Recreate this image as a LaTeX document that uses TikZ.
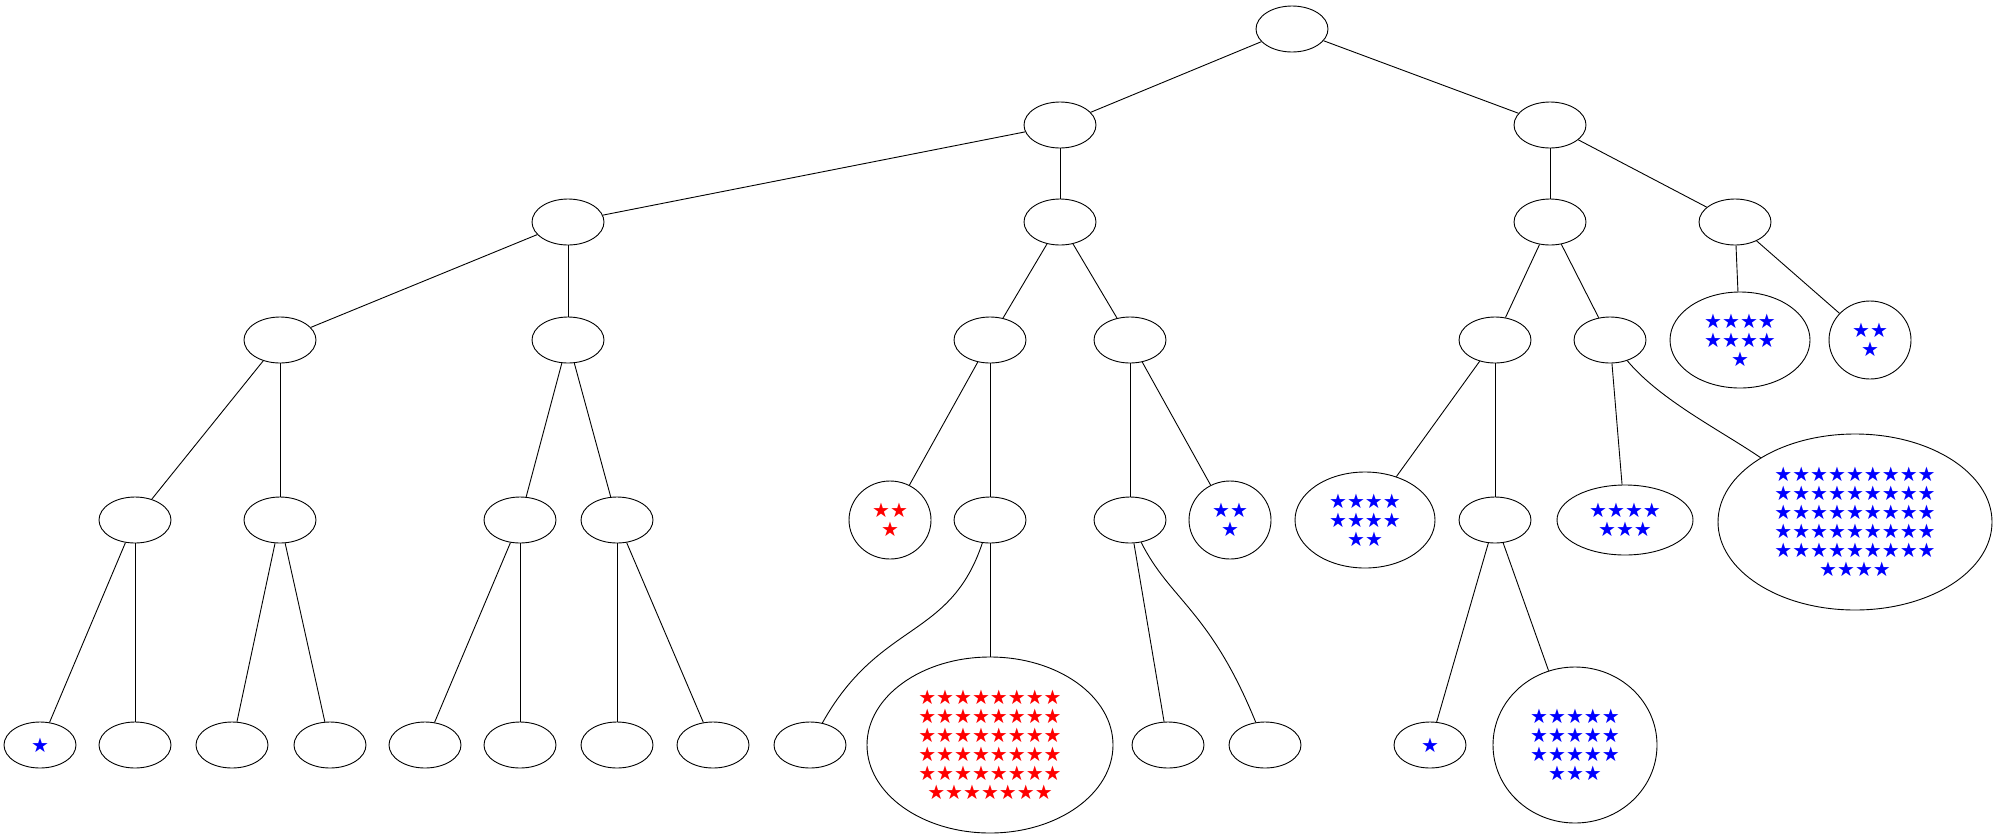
\documentclass[tikz,border=0pt]{standalone}
\usepackage{fontspec}
\newfontfamily\starfont{DejaVu Sans}
\usetikzlibrary{shapes.geometric}
\begin{document}
\begin{tikzpicture}[x=1pt,y=-1pt,
  leaf/.style={draw,ellipse,minimum width=72pt,minimum height=46pt,inner sep=0pt},
  blob/.style={draw=black,ellipse,inner sep=0pt,align=center,font=\starfont\fontsize{20}{19}\selectfont},
  every path/.style={line width=0.9pt}]
\useasboundingbox (0,0) rectangle (1996,836);

    % upper levels
    \node[leaf] (r) at (1292,29) {};
    \node[leaf] (a) at (1060,125) {};
    \node[leaf] (b) at (1550,125) {};
    \node[leaf] (aa) at (568,222) {};
    \node[leaf] (ab) at (1060,222) {};
    \node[leaf] (ba) at (1550,222) {};
    \node[leaf] (bb) at (1735,222) {};

    \node[leaf] (aaa) at (280,340) {};
    \node[leaf] (aab) at (568,340) {};
    \node[leaf] (aba) at (990,340) {};
    \node[leaf] (abb) at (1130,340) {};
    \node[leaf] (baa) at (1495,340) {};
    \node[leaf] (bab) at (1610,340) {};
    \node[blob,text=blue,minimum width=140pt,minimum height=96pt] (bba) at (1740,340) {★★★★\\★★★★\\★};
    \node[blob,text=blue,minimum width=82pt,minimum height=78pt] (bbb) at (1870,340) {★★\\★};

    % fourth level
    \node[leaf] (aaaa) at (135,520) {};
    \node[leaf] (aaab) at (280,520) {};
    \node[leaf] (aaba) at (520,520) {};
    \node[leaf] (aabb) at (617,520) {};
    \node[blob,text=red,minimum width=82pt,minimum height=78pt] (abaa) at (890,520) {★★\\★};
    \node[leaf] (abab) at (990,520) {};
    \node[leaf] (abba) at (1130,520) {};
    \node[blob,text=blue,minimum width=82pt,minimum height=78pt] (abbb) at (1230,520) {★★\\★};
    \node[blob,text=blue,minimum width=140pt,minimum height=96pt] (baaa) at (1365,520) {★★★★\\★★★★\\★★};
    \node[leaf] (baab) at (1495,520) {};
    \node[blob,text=blue,minimum width=136pt,minimum height=70pt] (baba) at (1625,520) {★★★★\\★★★};
    \node[blob,text=blue,minimum width=274pt,minimum height=176pt] (babb) at (1855,522) {★★★★★★★★★\\★★★★★★★★★\\★★★★★★★★★\\★★★★★★★★★\\★★★★★★★★★\\★★★★};

    % bottom level
    \node[blob,text=blue,minimum width=72pt,minimum height=46pt] (aaaaa) at (40,745) {★};
    \node[leaf] (aaaab) at (135,745) {};
    \node[leaf] (aaaba) at (232,745) {};
    \node[leaf] (aaabb) at (330,745) {};
    \node[leaf] (aabaa) at (425,745) {};
    \node[leaf] (aabab) at (520,745) {};
    \node[leaf] (aabba) at (617,745) {};
    \node[leaf] (aabbb) at (713,745) {};
    \node[leaf] (ababa) at (810,745) {};
    \node[blob,text=red,minimum width=246pt,minimum height=176pt] (ababb) at (990,745) {★★★★★★★★\\★★★★★★★★\\★★★★★★★★\\★★★★★★★★\\★★★★★★★★\\★★★★★★★};
    \node[leaf] (abbaa) at (1168,745) {};
    \node[leaf] (abbab) at (1265,745) {};
    \node[blob,text=blue,minimum width=72pt,minimum height=46pt] (baaba) at (1430,745) {★};
    \node[blob,text=blue,minimum width=164pt,minimum height=156pt] (baabb) at (1575,745) {★★★★★\\★★★★★\\★★★★★\\★★★};

    % edges
    \foreach \p/\c in {r/a,r/b,a/aa,a/ab,b/ba,b/bb,aa/aaa,aa/aab,ab/aba,ab/abb,
        ba/baa,ba/bab,bb/bba,bb/bbb,aaa/aaaa,aaa/aaab,aab/aaba,aab/aabb,
        aba/abaa,aba/abab,abb/abba,abb/abbb,baa/baaa,baa/baab,bab/baba,
        aaaa/aaaaa,aaaa/aaaab,aaab/aaaba,aaab/aaabb,aaba/aabaa,aaba/aabab,
        aabb/aabba,aabb/aabbb,abab/ababb,abba/abbaa,baab/baaba,baab/baabb}
      \draw (\p) -- (\c);
    \draw (abab) .. controls (950,640) and (880,620) .. (ababa);
    \draw (abba) .. controls (1170,600) and (1210,610) .. (abbab);
    \draw (bab) .. controls (1660,400) and (1720,430) .. (babb);
\end{tikzpicture}
\end{document}
